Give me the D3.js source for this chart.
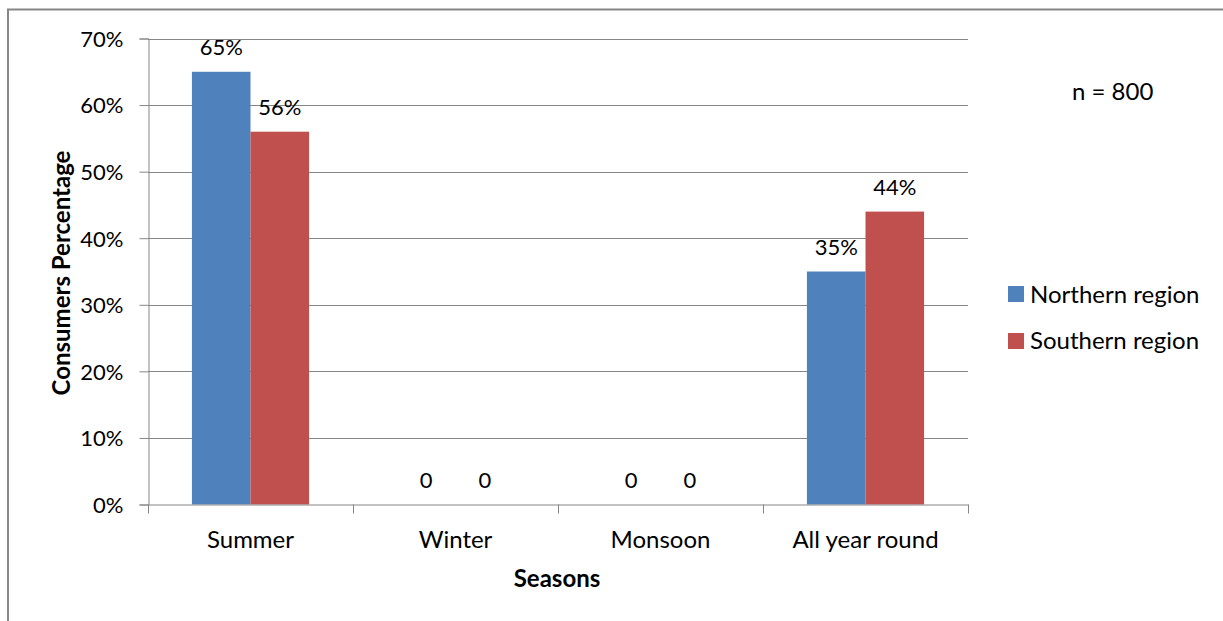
<!DOCTYPE html>
<html>
<head>
<meta charset="utf-8">
<script src="https://cdn.jsdelivr.net/npm/d3@7"></script>
<style>
  html, body { margin: 0; padding: 0; background: #fff; }
  svg { display: block; font-family: Lato, "Open Sans", sans-serif; }
</style>
</head>
<body>
<svg id="chart" width="1223" height="621"></svg>
<script>
const seasons = ["Summer", "Winter", "Monsoon", "All year round"];
const seriesNames = ["Northern region", "Southern region"];
const northern = [65, 0, 0, 35];
const southern = [56, 0, 0, 44];
const seriesColors = ["#4F81BD", "#C0504D"];
const yTicks = [0, 10, 20, 30, 40, 50, 60, 70];
const sampleNote = "n = 800";

const numSize = 22;
const wordSize = 24;

const svg = d3.select("#chart");
const plot = { left: 148, right: 968, top: 38.5, bottom: 504.5 };

// Chart frame
svg.append("rect")
  .attr("x", 8).attr("y", 9.5)
  .attr("width", 1240).attr("height", 640)
  .attr("fill", "none").attr("stroke", "#868686").attr("stroke-width", 2);

const x = d3.scaleBand().domain(seasons).range([plot.left, plot.right]).paddingInner(0).paddingOuter(0);
const y = d3.scaleLinear().domain([0, 70]).range([plot.bottom, plot.top]);
const inner = d3.scaleBand().domain(seriesNames).range([0, x.bandwidth()]).paddingInner(0).paddingOuter(0.75);

// Gridlines
svg.append("g").selectAll("line").data(yTicks.filter(d => d > 0)).join("line")
  .attr("x1", plot.left).attr("x2", plot.right)
  .attr("y1", d => Math.round(y(d)) + 0.5).attr("y2", d => Math.round(y(d)) + 0.5)
  .attr("stroke", "#868686").attr("stroke-width", 1);

// Y axis
const yAxis = svg.append("g").attr("transform", `translate(${plot.left + 0.5},0)`)
  .call(d3.axisLeft(y).tickValues(yTicks).tickFormat(d => d + "%").tickSize(9).tickPadding(16));
yAxis.select(".domain").attr("stroke", "#868686");
yAxis.selectAll(".tick line").attr("stroke", "#868686");
yAxis.selectAll("text").attr("font-size", numSize).attr("fill", "#000")
  .attr("font-family", "Lato, sans-serif").attr("dy", "0.36em");

// Bars and value labels
const series = [northern, southern];
series.forEach((vals, si) => {
  svg.append("g").selectAll("rect").data(seasons).join("rect")
    .attr("x", (d) => x(d) + inner(seriesNames[si]))
    .attr("width", inner.bandwidth())
    .attr("y", (d, i) => y(vals[i]))
    .attr("height", (d, i) => y(0) - y(vals[i]))
    .attr("fill", seriesColors[si]);
  svg.append("g").selectAll("text").data(seasons).join("text")
    .attr("x", (d) => x(d) + inner(seriesNames[si]) + inner.bandwidth() / 2)
    .attr("y", (d, i) => y(vals[i]) - 17)
    .attr("text-anchor", "middle")
    .attr("font-size", numSize)
    .text((d, i) => vals[i] === 0 ? "0" : vals[i] + "%");
});

// X axis
const xAxis = svg.append("g").attr("transform", `translate(0,${plot.bottom})`)
  .call(d3.axisBottom(x).tickSize(0));
xAxis.select(".domain").attr("stroke", "#868686");
xAxis.selectAll("text").attr("font-size", wordSize).attr("fill", "#000")
  .attr("font-family", "Lato, sans-serif").attr("y", 43).attr("dy", 0);
svg.append("g").selectAll("line").data(seasons.concat([null])).join("line")
  .attr("x1", (d, i) => Math.round(plot.left + i * x.bandwidth()) + 0.5)
  .attr("x2", (d, i) => Math.round(plot.left + i * x.bandwidth()) + 0.5)
  .attr("y1", plot.bottom).attr("y2", plot.bottom + 9)
  .attr("stroke", "#868686");

// Axis titles
svg.append("text").attr("x", 557).attr("y", 587).attr("text-anchor", "middle")
  .attr("font-size", wordSize).attr("font-weight", "bold").text("Seasons");
svg.append("text").attr("transform", "translate(70,273) rotate(-90)").attr("text-anchor", "middle")
  .attr("font-size", wordSize).attr("font-weight", "bold").text("Consumers Percentage");

// Legend
const legend = svg.append("g");
seriesNames.forEach((name, i) => {
  legend.append("rect").attr("x", 1008).attr("y", 286 + i * 47).attr("width", 16).attr("height", 16)
    .attr("fill", seriesColors[i]);
  legend.append("text").attr("x", 1030).attr("y", 303 + i * 46).attr("font-size", wordSize).text(name);
});

// Sample size note
svg.append("text").attr("x", 1072).attr("y", 100).attr("font-size", wordSize).text(sampleNote);
</script>
</body>
</html>
